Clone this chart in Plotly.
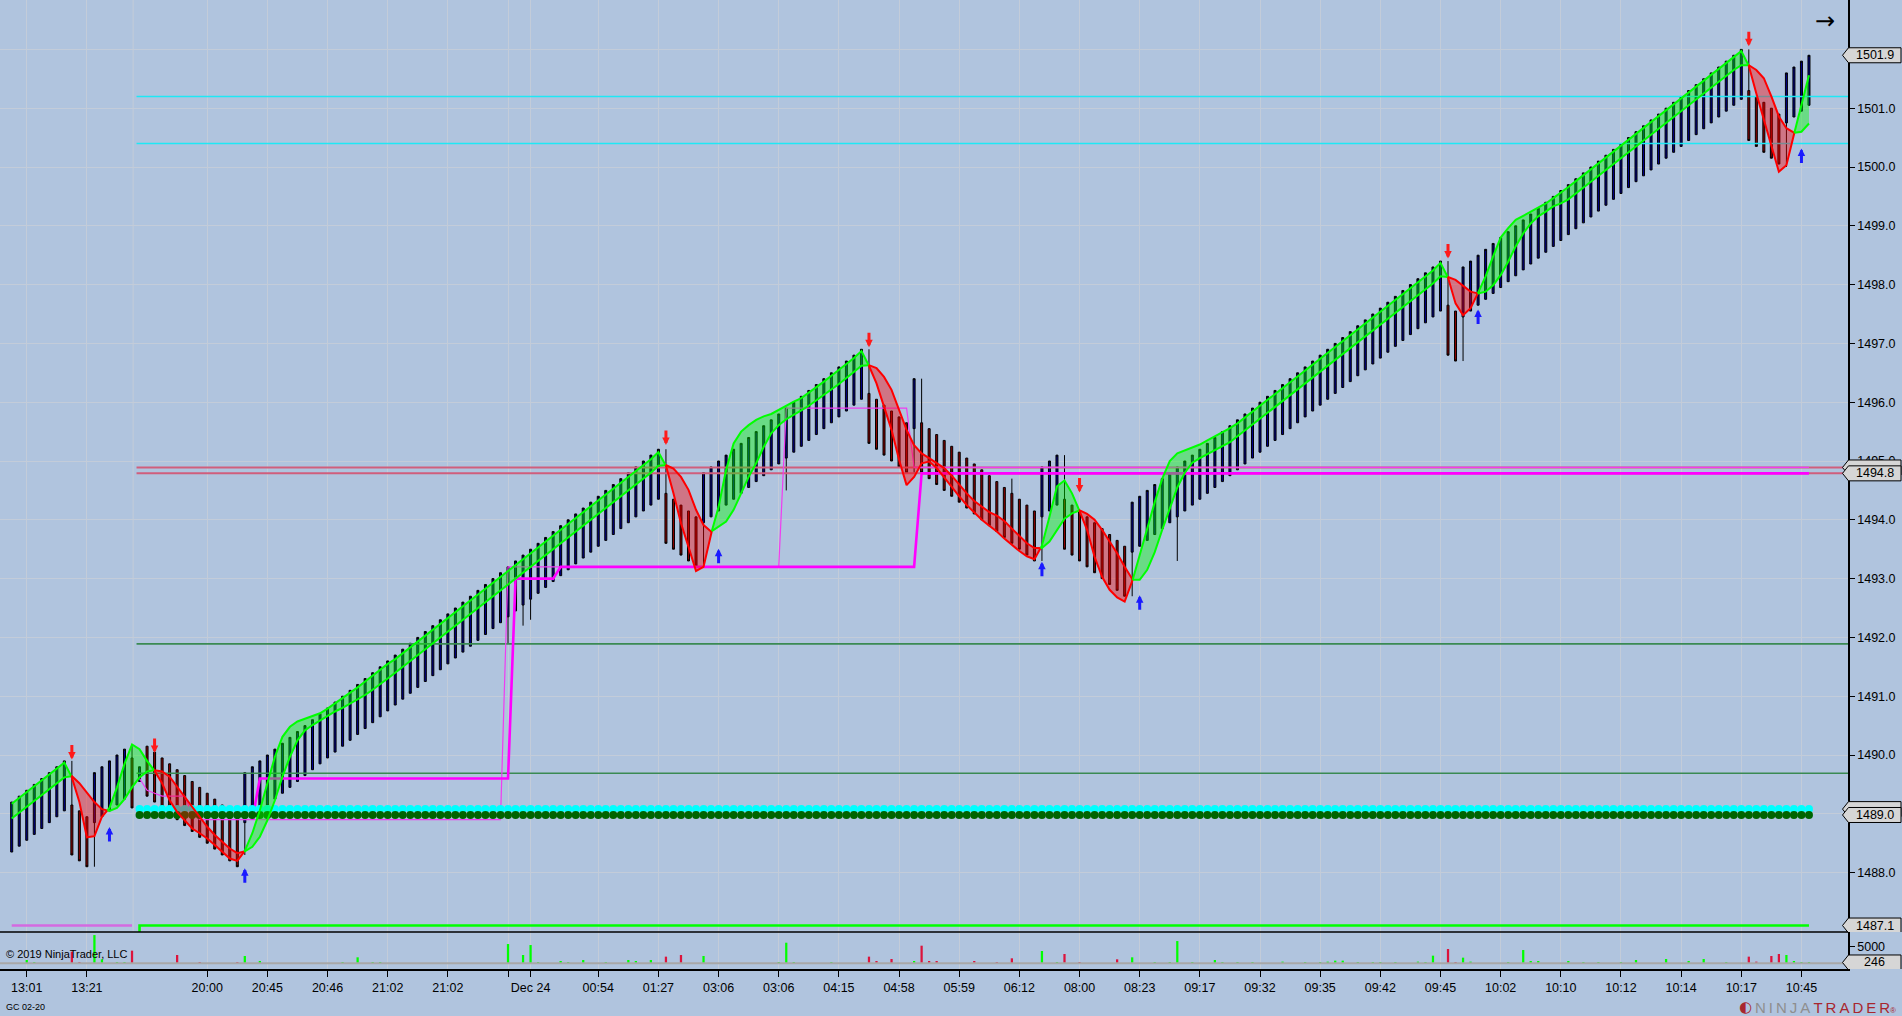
import plotly.graph_objects as go

# ---------------- data (GC 02-20, UniRenko style bars) ----------------
opens = [
    1488.35, 1488.45, 1488.55, 1488.65, 1488.75, 1488.85, 1488.95, 1489.05, 1489.15, 1489.05,
    1488.95, 1488.85, 1488.95, 1489.05, 1489.15, 1489.25, 1489.95, 1489.55, 1490.15, 1490.05,
    1489.95, 1489.85, 1489.75, 1489.65, 1489.55, 1489.45, 1489.35, 1489.25, 1489.15, 1489.05,
    1488.95, 1488.85, 1488.95, 1489.05, 1489.15, 1489.25, 1489.35, 1489.45, 1489.55, 1489.65,
    1489.75, 1489.85, 1489.95, 1490.05, 1490.15, 1490.25, 1490.35, 1490.45, 1490.55, 1490.65,
    1490.75, 1490.85, 1490.95, 1491.05, 1491.15, 1491.25, 1491.35, 1491.45, 1491.55, 1491.65,
    1491.75, 1491.85, 1491.95, 1492.05, 1492.15, 1492.25, 1492.35, 1492.45, 1492.55, 1492.65,
    1492.75, 1492.85, 1492.95, 1493.05, 1493.15, 1493.25, 1493.35, 1493.45, 1493.55, 1493.65,
    1493.75, 1493.85, 1493.95, 1494.05, 1494.15, 1494.25, 1494.35, 1494.45, 1494.35, 1494.25,
    1494.15, 1494.05, 1493.95, 1494.05, 1494.15, 1494.25, 1494.35, 1494.45, 1494.55, 1494.65,
    1494.75, 1494.85, 1494.95, 1495.05, 1495.15, 1495.25, 1495.35, 1495.45, 1495.55, 1495.65,
    1495.75, 1495.85, 1495.95, 1496.05, 1496.15, 1496.05, 1495.95, 1495.85, 1495.75, 1495.65,
    1495.55, 1495.65, 1495.55, 1495.45, 1495.35, 1495.25, 1495.15, 1495.05, 1494.95, 1494.85,
    1494.75, 1494.65, 1494.55, 1494.45, 1494.35, 1494.25, 1494.15, 1494.05, 1494.15, 1494.25,
    1494.35, 1494.25, 1494.15, 1494.05, 1493.95, 1493.85, 1493.75, 1493.65, 1493.55, 1493.45,
    1493.55, 1493.65, 1493.75, 1493.85, 1493.95, 1494.05, 1494.15, 1494.25, 1494.35, 1494.45,
    1494.55, 1494.65, 1494.75, 1494.85, 1494.95, 1495.05, 1495.15, 1495.25, 1495.35, 1495.45,
    1495.55, 1495.65, 1495.75, 1495.85, 1495.95, 1496.05, 1496.15, 1496.25, 1496.35, 1496.45,
    1496.55, 1496.65, 1496.75, 1496.85, 1496.95, 1497.05, 1497.15, 1497.25, 1497.35, 1497.45,
    1497.55, 1497.65, 1497.55, 1497.45, 1497.55, 1497.65, 1497.75, 1497.85, 1497.95, 1498.05,
    1498.15, 1498.25, 1498.35, 1498.45, 1498.55, 1498.65, 1498.75, 1498.85, 1498.95, 1499.05,
    1499.15, 1499.25, 1499.35, 1499.45, 1499.55, 1499.65, 1499.75, 1499.85, 1499.95, 1500.05,
    1500.15, 1500.25, 1500.35, 1500.45, 1500.55, 1500.65, 1500.75, 1500.85, 1500.95, 1501.05,
    1501.15, 1501.3, 1501.2, 1501.1, 1501.0, 1500.9, 1500.75, 1500.85, 1500.95, 1501.05,
]
closes = [
    1489.2, 1489.3, 1489.4, 1489.5, 1489.6, 1489.7, 1489.8, 1489.9, 1488.3, 1488.2,
    1488.1, 1489.7, 1489.8, 1489.9, 1490.0, 1490.1, 1489.1, 1489.8, 1489.3, 1489.2,
    1489.1, 1489.0, 1488.9, 1488.8, 1488.7, 1488.6, 1488.5, 1488.4, 1488.3, 1488.2,
    1488.1, 1489.7, 1489.8, 1489.9, 1490.0, 1490.1, 1490.2, 1490.3, 1490.4, 1490.5,
    1490.6, 1490.7, 1490.8, 1490.9, 1491.0, 1491.1, 1491.2, 1491.3, 1491.4, 1491.5,
    1491.6, 1491.7, 1491.8, 1491.9, 1492.0, 1492.1, 1492.2, 1492.3, 1492.4, 1492.5,
    1492.6, 1492.7, 1492.8, 1492.9, 1493.0, 1493.1, 1493.2, 1493.3, 1493.4, 1493.5,
    1493.6, 1493.7, 1493.8, 1493.9, 1494.0, 1494.1, 1494.2, 1494.3, 1494.4, 1494.5,
    1494.6, 1494.7, 1494.8, 1494.9, 1495.0, 1495.1, 1495.2, 1493.6, 1493.5, 1493.4,
    1493.3, 1493.2, 1494.8, 1494.9, 1495.0, 1495.1, 1495.2, 1495.3, 1495.4, 1495.5,
    1495.6, 1495.7, 1495.8, 1495.9, 1496.0, 1496.1, 1496.2, 1496.3, 1496.4, 1496.5,
    1496.6, 1496.7, 1496.8, 1496.9, 1495.3, 1495.2, 1495.1, 1495.0, 1494.9, 1494.8,
    1496.4, 1494.8, 1494.7, 1494.6, 1494.5, 1494.4, 1494.3, 1494.2, 1494.1, 1494.0,
    1493.9, 1493.8, 1493.7, 1493.6, 1493.5, 1493.4, 1493.3, 1494.9, 1495.0, 1495.1,
    1493.5, 1493.4, 1493.3, 1493.2, 1493.1, 1493.0, 1492.9, 1492.8, 1492.7, 1494.3,
    1494.4, 1494.5, 1494.6, 1494.7, 1494.8, 1494.9, 1495.0, 1495.1, 1495.2, 1495.3,
    1495.4, 1495.5, 1495.6, 1495.7, 1495.8, 1495.9, 1496.0, 1496.1, 1496.2, 1496.3,
    1496.4, 1496.5, 1496.6, 1496.7, 1496.8, 1496.9, 1497.0, 1497.1, 1497.2, 1497.3,
    1497.4, 1497.5, 1497.6, 1497.7, 1497.8, 1497.9, 1498.0, 1498.1, 1498.2, 1498.3,
    1498.4, 1496.8, 1496.7, 1498.3, 1498.4, 1498.5, 1498.6, 1498.7, 1498.8, 1498.9,
    1499.0, 1499.1, 1499.2, 1499.3, 1499.4, 1499.5, 1499.6, 1499.7, 1499.8, 1499.9,
    1500.0, 1500.1, 1500.2, 1500.3, 1500.4, 1500.5, 1500.6, 1500.7, 1500.8, 1500.9,
    1501.0, 1501.1, 1501.2, 1501.3, 1501.4, 1501.5, 1501.6, 1501.7, 1501.8, 1501.9,
    1502.0, 1500.45, 1500.35, 1500.25, 1500.15, 1500.05, 1501.6, 1501.7, 1501.8, 1501.9,
]
# bars whose wick goes past the body
wick_highs = {8: 1489.9, 16: 1490.15, 87: 1495.2, 114: 1496.9, 121: 1496.4,
              133: 1494.7, 140: 1495.1, 191: 1498.4, 231: 1502.0}
wick_lows = {11: 1488.1, 31: 1488.3, 66: 1491.9, 68: 1492.2, 69: 1492.3, 92: 1493.2,
             103: 1494.5, 120: 1494.8, 137: 1493.3, 149: 1492.7, 155: 1493.3,
             193: 1496.7, 236: 1500.0}

# ribbon indicator: fast and slow lines (green when fast >= slow, red otherwise)
fast_line = [
    1489.17, 1489.27, 1489.37, 1489.47, 1489.57, 1489.67, 1489.77, 1489.87, 1489.62, 1489.2,
    1488.6, 1488.62, 1488.95, 1489.1, 1489.45, 1489.85, 1490.18, 1490.1, 1489.9, 1489.73,
    1489.52, 1489.23, 1489.03, 1488.89, 1488.75, 1488.67, 1488.58, 1488.47, 1488.36, 1488.24,
    1488.2, 1488.37, 1488.67, 1489.06, 1489.52, 1489.97, 1490.31, 1490.48, 1490.57, 1490.62,
    1490.66, 1490.71, 1490.79, 1490.88, 1490.96, 1491.05, 1491.15, 1491.25, 1491.35, 1491.45,
    1491.55, 1491.63, 1491.73, 1491.83, 1491.93, 1492.03, 1492.13, 1492.23, 1492.33, 1492.43,
    1492.53, 1492.63, 1492.73, 1492.83, 1492.93, 1493.03, 1493.13, 1493.23, 1493.33, 1493.43,
    1493.53, 1493.63, 1493.73, 1493.83, 1493.93, 1494.03, 1494.13, 1494.23, 1494.33, 1494.43,
    1494.53, 1494.63, 1494.73, 1494.83, 1494.93, 1495.03, 1495.15, 1494.92, 1494.45, 1493.94,
    1493.54, 1493.13, 1493.2, 1493.76, 1494.22, 1494.85, 1495.3, 1495.5, 1495.61, 1495.7,
    1495.76, 1495.8, 1495.87, 1495.95, 1496.01, 1496.07, 1496.16, 1496.25, 1496.35, 1496.45,
    1496.55, 1496.65, 1496.75, 1496.87, 1496.62, 1496.32, 1495.92, 1495.53, 1495.02, 1494.59,
    1494.73, 1494.96, 1494.99, 1494.88, 1494.72, 1494.55, 1494.4, 1494.25, 1494.12, 1494.0,
    1493.9, 1493.8, 1493.68, 1493.57, 1493.47, 1493.38, 1493.33, 1493.56, 1494.05, 1494.57,
    1494.67, 1494.45, 1494.15, 1493.83, 1493.37, 1493.03, 1492.81, 1492.68, 1492.61, 1492.95,
    1493.4, 1493.85, 1494.3, 1494.7, 1495.0, 1495.13, 1495.18, 1495.22, 1495.28, 1495.35,
    1495.42, 1495.48, 1495.56, 1495.64, 1495.74, 1495.84, 1495.94, 1496.04, 1496.14, 1496.24,
    1496.34, 1496.44, 1496.54, 1496.64, 1496.74, 1496.84, 1496.94, 1497.04, 1497.14, 1497.24,
    1497.34, 1497.44, 1497.54, 1497.64, 1497.74, 1497.84, 1497.94, 1498.04, 1498.14, 1498.24,
    1498.37, 1498.12, 1497.68, 1497.48, 1497.6, 1497.86, 1498.14, 1498.48, 1498.8, 1498.96,
    1499.1, 1499.17, 1499.24, 1499.3, 1499.38, 1499.47, 1499.56, 1499.66, 1499.76, 1499.86,
    1499.96, 1500.06, 1500.16, 1500.26, 1500.36, 1500.46, 1500.56, 1500.66, 1500.76, 1500.86,
    1500.96, 1501.06, 1501.16, 1501.26, 1501.36, 1501.46, 1501.56, 1501.66, 1501.76, 1501.86,
    1501.97, 1501.72, 1501.25, 1500.8, 1500.35, 1499.92, 1500.03, 1500.55, 1501.08, 1501.56,
]
slow_line = [
    1488.92, 1489.02, 1489.12, 1489.22, 1489.32, 1489.42, 1489.52, 1489.62, 1489.64, 1489.52,
    1489.35, 1489.2, 1489.08, 1489.05, 1489.1, 1489.25, 1489.45, 1489.62, 1489.72, 1489.74,
    1489.72, 1489.63, 1489.46, 1489.29, 1489.12, 1488.95, 1488.78, 1488.64, 1488.52, 1488.41,
    1488.33, 1488.36, 1488.44, 1488.61, 1488.89, 1489.23, 1489.63, 1489.97, 1490.25, 1490.42,
    1490.51, 1490.59, 1490.66, 1490.74, 1490.8, 1490.87, 1490.94, 1491.02, 1491.11, 1491.2,
    1491.3, 1491.4, 1491.5, 1491.6, 1491.7, 1491.8, 1491.9, 1492.0, 1492.1, 1492.2,
    1492.3, 1492.4, 1492.5, 1492.6, 1492.7, 1492.8, 1492.9, 1493.0, 1493.1, 1493.2,
    1493.3, 1493.4, 1493.5, 1493.6, 1493.7, 1493.8, 1493.9, 1494.0, 1494.1, 1494.2,
    1494.3, 1494.4, 1494.5, 1494.6, 1494.7, 1494.8, 1494.92, 1494.93, 1494.87, 1494.73,
    1494.51, 1494.17, 1493.91, 1493.8, 1493.88, 1493.97, 1494.17, 1494.45, 1494.73, 1494.96,
    1495.24, 1495.47, 1495.61, 1495.71, 1495.78, 1495.86, 1495.94, 1496.03, 1496.12, 1496.21,
    1496.31, 1496.41, 1496.51, 1496.62, 1496.63, 1496.58, 1496.43, 1496.21, 1495.87, 1495.53,
    1495.27, 1495.13, 1495.05, 1494.97, 1494.88, 1494.75, 1494.6, 1494.45, 1494.32, 1494.22,
    1494.13, 1494.07, 1493.98, 1493.85, 1493.72, 1493.6, 1493.52, 1493.52, 1493.63, 1493.83,
    1494.02, 1494.11, 1494.16, 1494.1, 1494.0, 1493.83, 1493.63, 1493.43, 1493.2, 1492.98,
    1492.98, 1493.15, 1493.45, 1493.83, 1494.2, 1494.55, 1494.8, 1494.97, 1495.05, 1495.12,
    1495.18, 1495.25, 1495.32, 1495.42, 1495.52, 1495.62, 1495.72, 1495.82, 1495.92, 1496.02,
    1496.12, 1496.22, 1496.32, 1496.42, 1496.52, 1496.62, 1496.72, 1496.82, 1496.92, 1497.02,
    1497.12, 1497.22, 1497.32, 1497.42, 1497.52, 1497.62, 1497.72, 1497.82, 1497.92, 1498.02,
    1498.14, 1498.13, 1498.08, 1497.98, 1497.88, 1497.85, 1497.88, 1497.99, 1498.16, 1498.39,
    1498.65, 1498.87, 1499.04, 1499.16, 1499.24, 1499.33, 1499.38, 1499.45, 1499.55, 1499.65,
    1499.75, 1499.85, 1499.95, 1500.05, 1500.15, 1500.25, 1500.35, 1500.45, 1500.55, 1500.65,
    1500.75, 1500.85, 1500.95, 1501.05, 1501.15, 1501.25, 1501.35, 1501.45, 1501.55, 1501.65,
    1501.73, 1501.73, 1501.65, 1501.51, 1501.2, 1500.86, 1500.66, 1500.58, 1500.6, 1500.74,
]

# volume: only bars with a visible stick, the rest are too small to show
volume_by_bar = {
    2: 1000, 3: 400, 8: 3500, 9: 400, 11: 8500, 12: 1200, 14: 300, 15: 300, 16: 3800,
    22: 2500, 25: 200, 30: 250, 31: 2200, 33: 700, 44: 200, 46: 1800, 48: 200, 49: 400,
    66: 5800, 68: 2500, 69: 5500, 70: 200, 73: 700, 74: 150, 76: 1000, 79: 150, 82: 1000,
    83: 700, 85: 1000, 87: 2000, 89: 2500, 92: 2200, 102: 150, 103: 6200, 104: 150,
    109: 150, 114: 2000, 115: 700, 117: 1300, 120: 700, 121: 5300, 122: 700, 123: 700,
    128: 700, 131: 150, 133: 1500, 137: 3700, 139: 150, 140: 2800, 142: 400, 147: 1200,
    149: 1800, 152: 400, 154: 150, 155: 6700, 157: 150, 160: 1000, 161: 150, 163: 150,
    165: 150, 169: 500, 172: 150, 174: 150, 175: 500, 176: 800, 177: 800, 179: 150,
    181: 150, 182: 150, 184: 150, 187: 500, 188: 150, 189: 2300, 191: 4300, 192: 400,
    193: 1700, 194: 500, 199: 150, 201: 4000, 202: 700, 203: 700, 207: 700, 209: 150,
    211: 150, 214: 150, 216: 1000, 220: 1300, 223: 700, 225: 1300, 228: 150, 231: 2000,
    232: 500, 234: 2200, 235: 2800, 236: 2500, 237: 700, 238: 150, 239: 246,
}

down_arrow_bars = [8, 19, 87, 114, 142, 191, 231]
down_arrow_prices = [1490.06, 1490.17, 1495.41, 1497.07, 1494.6, 1498.58, 1502.19]
up_arrow_bars = [13, 31, 94, 137, 150, 195, 238]
up_arrow_prices = [1488.64, 1487.94, 1493.37, 1493.15, 1492.58, 1497.44, 1500.18]

tick_bars = [2, 10, 26, 34, 42, 50, 58, 66, 69, 78, 86, 94, 102, 110, 118, 126, 134,
             142, 150, 158, 166, 174, 182, 190, 198, 206, 214, 222, 230, 238]
tick_labels = ["13:01", "13:21", "20:00", "20:45", "20:46", "21:02", "21:02", "", "Dec 24",
               "00:54", "01:27", "03:06", "03:06", "04:15", "04:58", "05:59", "06:12",
               "08:00", "08:23", "09:17", "09:32", "09:35", "09:42", "09:45", "10:02",
               "10:10", "10:12", "10:14", "10:17", "10:45"]
price_ticks = [1488.0, 1489.0, 1490.0, 1491.0, 1492.0, 1493.0, 1494.0, 1495.0,
               1496.0, 1497.0, 1498.0, 1499.0, 1500.0, 1501.0, 1502.0]
price_tick_text = ["1488.0", "1489.0", "1490.0", "1491.0", "1492.0", "1493.0", "1494.0", "1495.0",
                   "1496.0", "1497.0", "1498.0", "1499.0", "1500.0", "1501.0", ""]  # 1502.0 sits under the last-price tag

session_first_bar = 17
cyan_levels = [1501.2, 1500.4]
pink_levels = [1494.89, 1494.79]
dkgreen_levels = [1491.89, 1489.69]
cyan_dot_level = 1489.08
green_dot_level = 1488.98
# (first bar, value) steps of the two magenta plots
magenta_thin_runs = [(17, 1489.6), (18, 1489.4), (19, 1489.35), (20, 1489.3), (24, 1489.0),
                     (25, 1488.9), (66, 1493.2), (103, 1495.9), (120, 1494.89)]
magenta_thick_runs = [(32, 1488.9), (33, 1489.6), (67, 1493.0), (73, 1493.2), (121, 1494.79)]
prior_session_level = 1487.1
lime_level = 1487.1
lime_start = 1486.99

# (text, value, text visible)
price_tags = [("1501.9", 1501.9, True), ("1494.9", 1494.89, False), ("1494.8", 1494.79, True),
              ("1489.1", 1489.08, False), ("1489.0", 1488.98, True), ("1487.1", 1487.1, True)]
volume_tag = ("246", 246)

# ---------------- page geometry ----------------
W, H = 1902, 1016
PLOT_W = 1848          # right price axis line
PLOT_H = 969           # bottom of the volume panel
VOL_H = 37
MAIN_BOTTOM = VOL_H / PLOT_H
X_MIN, X_MAX = -1.556, 244.19
Y_MIN, Y_MAX = 1486.99, 1502.84
V_MIN, V_MAX = -1716, 9421

BG = "#b0c4de"
GRID = "#c3ccd9"
FONT = "Liberation Sans"

n = len(closes)
idx = list(range(n))
highs = [wick_highs.get(i, max(o, c)) for i, (o, c) in enumerate(zip(opens, closes))]
lows = [wick_lows.get(i, min(o, c)) for i, (o, c) in enumerate(zip(opens, closes))]


def expand_runs(runs, last_bar):
    xs, ys = [], []
    for k, (start, val) in enumerate(runs):
        end = runs[k + 1][0] - 1 if k + 1 < len(runs) else last_bar
        for i in range(start, end + 1):
            xs.append(i)
            ys.append(val)
    return xs, ys


def band_segments(fast, slow):
    segs = []
    cur = None
    for i in range(len(fast)):
        up = fast[i] >= slow[i]
        if cur is None:
            cur = {"up": up, "x": [i], "f": [fast[i]], "s": [slow[i]]}
            continue
        if up != cur["up"]:
            d0 = fast[i - 1] - slow[i - 1]
            d1 = fast[i] - slow[i]
            t = d0 / (d0 - d1)
            xc = i - 1 + t
            yc = fast[i - 1] + t * (fast[i] - fast[i - 1])
            cur["x"].append(xc)
            cur["f"].append(yc)
            cur["s"].append(yc)
            segs.append(cur)
            cur = {"up": up, "x": [xc, i], "f": [yc, fast[i]], "s": [yc, slow[i]]}
        else:
            cur["x"].append(i)
            cur["f"].append(fast[i])
            cur["s"].append(slow[i])
    segs.append(cur)
    return segs


def level_trace(levels, color, width):
    xs, ys = [], []
    for lv in levels:
        xs += [session_first_bar - 0.4, X_MAX, None]
        ys += [lv, lv, None]
    return go.Scatter(x=xs, y=ys, mode="lines", line=dict(color=color, width=width),
                      hoverinfo="skip")


fig = go.Figure()

# horizontal levels of the session
fig.add_trace(level_trace(dkgreen_levels, "#3a8a52", 1.6))
fig.add_trace(level_trace(cyan_levels, "#1ee8f5", 1.6))
fig.add_trace(level_trace(pink_levels, "#d05e7c", 2))

thin_x, thin_y = expand_runs(magenta_thin_runs, n - 1)
thick_x, thick_y = expand_runs(magenta_thick_runs, n - 1)
fig.add_trace(go.Scatter(x=thin_x, y=thin_y, mode="lines",
                         line=dict(color="#f03cf0", width=1.2), hoverinfo="skip"))
fig.add_trace(go.Scatter(x=thick_x, y=thick_y, mode="lines",
                         line=dict(color="#ff00ff", width=2.6), hoverinfo="skip"))

fig.add_trace(go.Scatter(x=[0, session_first_bar - 1], y=[prior_session_level] * 2, mode="lines",
                         line=dict(color="#d46ae0", width=2.6), hoverinfo="skip"))
fig.add_trace(go.Scatter(x=[session_first_bar, session_first_bar, n - 1],
                         y=[lime_start, lime_level, lime_level], mode="lines",
                         line=dict(color="#00ff00", width=2.6), hoverinfo="skip"))

# bars
fig.add_trace(go.Candlestick(
    x=idx, open=opens, high=highs, low=lows, close=closes,
    increasing=dict(fillcolor="#00008b", line=dict(color="black", width=1)),
    decreasing=dict(fillcolor="#8b0000", line=dict(color="black", width=1)),
    whiskerwidth=0, hoverinfo="skip",
))

# dot rows
dot_x = list(range(session_first_bar, n))
fig.add_trace(go.Scatter(x=dot_x, y=[cyan_dot_level] * len(dot_x), mode="markers",
                         marker=dict(color="#00ffff", size=8), hoverinfo="skip"))
fig.add_trace(go.Scatter(x=dot_x, y=[green_dot_level] * len(dot_x), mode="markers",
                         marker=dict(color="#006400", size=8), hoverinfo="skip"))

# ribbon fills then lines
segs = band_segments(fast_line, slow_line)
for seg in segs:
    fill = "rgba(0,255,0,0.4)" if seg["up"] else "rgba(255,0,0,0.4)"
    fig.add_trace(go.Scatter(x=seg["x"] + seg["x"][::-1], y=seg["f"] + seg["s"][::-1],
                             mode="lines", fill="toself", fillcolor=fill,
                             line=dict(width=0), hoverinfo="skip"))
for seg in segs:
    col = "#00ff00" if seg["up"] else "#ff0000"
    for key in ("f", "s"):
        fig.add_trace(go.Scatter(x=seg["x"], y=seg[key], mode="lines",
                                 line=dict(color=col, width=2), hoverinfo="skip"))

# volume panel
volumes = [volume_by_bar.get(i, 0) for i in idx]
vol_colors = ["#00ff00" if c >= o else "#dc143c" for o, c in zip(opens, closes)]
fig.add_trace(go.Scatter(x=[X_MIN, X_MAX], y=[0, 0], mode="lines", yaxis="y2",
                         line=dict(color="#a8a8a8", width=2), hoverinfo="skip"))
fig.add_trace(go.Bar(x=idx, y=volumes, yaxis="y2", width=0.3,
                     marker=dict(color=vol_colors, line=dict(width=0)), hoverinfo="skip"))

shapes = []
annotations = []

# signal arrows (annotation arrows centred on the read position)
for b, p in zip(down_arrow_bars, down_arrow_prices):
    annotations.append(dict(x=b, y=p, xref="x", yref="y", text="", showarrow=True,
                            ax=0, ay=-16, yshift=-8, arrowhead=2, arrowsize=0.5,
                            arrowwidth=3, arrowcolor="#ff1a1a"))
for b, p in zip(up_arrow_bars, up_arrow_prices):
    annotations.append(dict(x=b, y=p, xref="x", yref="y", text="", showarrow=True,
                            ax=0, ay=16, yshift=8, arrowhead=2, arrowsize=0.5,
                            arrowwidth=3, arrowcolor="#1a1aff"))

# ---------------- price tags on the right axis ----------------
TIP = 1842.5 / PLOT_W
LEFT = 1848.5 / PLOT_W
RIGHT = 1901.0 / PLOT_W


def add_tag(text, value, yref, half, show_text=True):
    path = (f"M {TIP},{value} L {LEFT},{value + half} L {RIGHT},{value + half} "
            f"L {RIGHT},{value - half} L {LEFT},{value - half} Z")
    shapes.append(dict(type="path", xref="paper", yref=yref, path=path,
                       fillcolor="#d6d6d6", line=dict(color="black", width=1), layer="above"))
    if show_text:
        annotations.append(dict(xref="paper", yref=yref, x=(LEFT + RIGHT) / 2, y=value,
                                text=text, showarrow=False, xanchor="center", yanchor="middle",
                                font=dict(size=12.5, color="black", family=FONT)))


price_px = (Y_MAX - Y_MIN) / (PLOT_H - VOL_H)
vol_px = (V_MAX - V_MIN) / VOL_H
for text, value, show in price_tags:
    add_tag(text, value, "y", 7.5 * price_px, show)
add_tag(volume_tag[0], volume_tag[1], "y2", 7.5 * vol_px)

# panel borders and session break
shapes.append(dict(type="line", xref="paper", yref="paper", x0=0, x1=1, y0=MAIN_BOTTOM, y1=MAIN_BOTTOM,
                   line=dict(color="black", width=1.5), layer="above"))
shapes.append(dict(type="line", xref="x", yref="paper", x0=session_first_bar - 0.85,
                   x1=session_first_bar - 0.85, y0=MAIN_BOTTOM, y1=1,
                   line=dict(color=GRID, width=1), layer="below"))

TS = "\u2009"
logo_text = (f'<span style="color:#8e8e8e">{TS.join("NINJA")}</span>{TS}'
             f'<span style="color:#a8262e">{TS.join("TRADER")}</span>'
             '<span style="color:#a8262e;font-size:8px">®</span>')
annotations += [
    dict(xref="paper", yref="paper", x=4 / PLOT_W, y=(PLOT_H - 954) / PLOT_H, text="© 2019 NinjaTrader, LLC",
         showarrow=False, xanchor="left", yanchor="middle", font=dict(size=11, color="black", family=FONT)),
    dict(xref="paper", yref="paper", x=4 / PLOT_W, y=(PLOT_H - 1007) / PLOT_H, text="GC 02-20",
         showarrow=False, xanchor="left", yanchor="middle", font=dict(size=9, color="black", family=FONT)),
    dict(xref="paper", yref="paper", x=1825 / PLOT_W, y=(PLOT_H - 21) / PLOT_H, text="→",
         showarrow=False, xanchor="center", yanchor="middle", font=dict(size=24, color="black", family="DejaVu Sans")),
    dict(xref="paper", yref="paper", x=1898 / PLOT_W, y=(PLOT_H - 1007) / PLOT_H, text=logo_text,
         showarrow=False, xanchor="right", yanchor="middle", font=dict(size=15, family=FONT)),
    dict(xref="paper", yref="paper", x=1745 / PLOT_W, y=(PLOT_H - 1007) / PLOT_H, text="◐",
         showarrow=False, xanchor="center", yanchor="middle", font=dict(size=15, color="#a8262e", family="DejaVu Sans")),
]

fig.update_layout(
    width=W, height=H,
    margin=dict(l=0, r=W - PLOT_W, t=0, b=H - PLOT_H),
    paper_bgcolor=BG, plot_bgcolor=BG,
    showlegend=False, hovermode=False,
    font=dict(family=FONT, size=12, color="black"),
    boxgap=0.62,
    xaxis=dict(range=[X_MIN, X_MAX], anchor="y2", tickmode="array", tickvals=tick_bars,
               ticktext=tick_labels, ticks="outside", ticklen=6, tickcolor="black",
               showline=True, linecolor="black", linewidth=1.5, showgrid=True, gridcolor=GRID,
               zeroline=False, rangeslider=dict(visible=False),
               tickfont=dict(size=12.5, color="black", family=FONT)),
    yaxis=dict(domain=[MAIN_BOTTOM, 1], range=[Y_MIN, Y_MAX], side="right",
               tickmode="array", tickvals=price_ticks, ticktext=price_tick_text,
               ticks="outside", ticklen=5, tickcolor="black",
               showline=True, linecolor="black", linewidth=1.5, showgrid=True, gridcolor=GRID,
               zeroline=False, tickfont=dict(size=12.5, color="black", family=FONT)),
    yaxis2=dict(domain=[0, MAIN_BOTTOM], range=[V_MIN, V_MAX], side="right",
                tickmode="array", tickvals=[5000], ticktext=["5000"], ticks="outside", ticklen=5,
                tickcolor="black", showline=True, linecolor="black", linewidth=1.5,
                showgrid=False, zeroline=False, tickfont=dict(size=12.5, color="black", family=FONT)),
    shapes=shapes,
    annotations=annotations,
)

fig.write_html("out.html", config={"displayModeBar": False},
               post_script="document.body.style.margin='0';document.body.style.overflow='hidden';")
